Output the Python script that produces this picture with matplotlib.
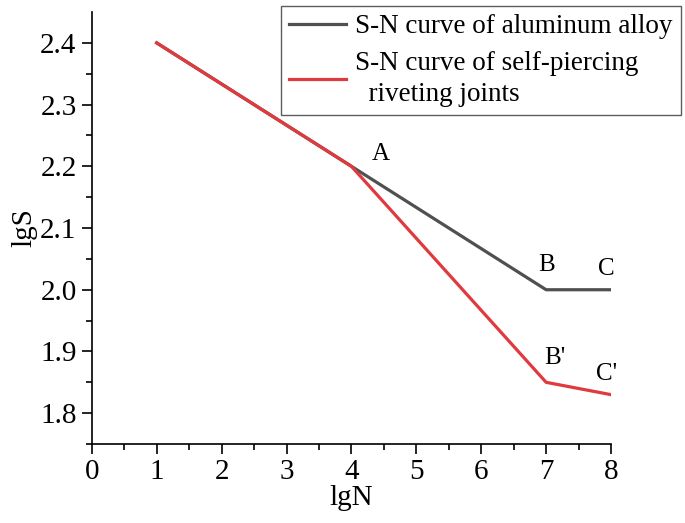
import matplotlib.pyplot as plt

plt.rcParams['font.family'] = ['Liberation Serif', 'DejaVu Serif']

# data
lgN_al = [1, 4, 7, 8]
lgS_al = [2.4, 2.2, 2.0, 2.0]
lgN_spr = [1, 4, 7, 8]
lgS_spr = [2.4, 2.2, 1.85, 1.83]

point_labels = ['A', 'B', 'C', "B'", "C'"]
label_x = [4.45, 7.01, 7.93, 7.13, 7.93]
label_y = [2.22, 2.04, 2.033, 1.889, 1.863]

fig = plt.figure(figsize=(6.85, 5.23), dpi=100)
ax = fig.add_axes([0.134, 0.151, 0.758, 0.826])

ax.plot(lgN_al, lgS_al, color='#505050', lw=2.3,
        label='S-N curve of aluminum alloy')
ax.plot(lgN_spr, lgS_spr, color='#e0393e', lw=2.3,
        label='S-N curve of self-piercing\n  riveting joints')

for t, x, y in zip(point_labels, label_x, label_y):
    ax.text(x, y, t, fontsize=18, ha='center', va='center')

ax.set_xlim(0, 8)
ax.set_ylim(1.75, 2.45)
ax.set_xticks(range(0, 9))
ax.set_xticks([i + 0.5 for i in range(8)], minor=True)
ax.set_yticks([1.8, 1.9, 2.0, 2.1, 2.2, 2.3, 2.4])
ax.set_yticks([1.75 + 0.1 * i for i in range(7)], minor=True)
ax.set_yticklabels(['1.8', '1.9', '2.0', '2.1', '2.2', '2.3', '2.4'])

ax.spines['top'].set_visible(False)
ax.spines['right'].set_visible(False)
ax.tick_params(which='major', direction='out', length=7, width=1.2,
               labelsize=21, pad=4)
ax.tick_params(which='minor', direction='out', length=4, width=1.2)
for s in ['left', 'bottom']:
    ax.spines[s].set_linewidth(1.2)

ax.set_xlabel('lgN', fontsize=21, labelpad=0)
ax.set_ylabel('lgS', fontsize=21, labelpad=2)

leg = ax.legend(loc='upper right', bbox_to_anchor=(0.994, 0.9885),
                bbox_transform=fig.transFigure, fontsize=19.5, frameon=True,
                fancybox=False, edgecolor='#333333', handlelength=2.1,
                borderpad=0.3, labelspacing=0.45, handletextpad=0.35,
                borderaxespad=0)
leg.get_frame().set_linewidth(1.0)
leg.get_texts()[1].set_linespacing(1.3)

fig.savefig('out.png', dpi=100)
